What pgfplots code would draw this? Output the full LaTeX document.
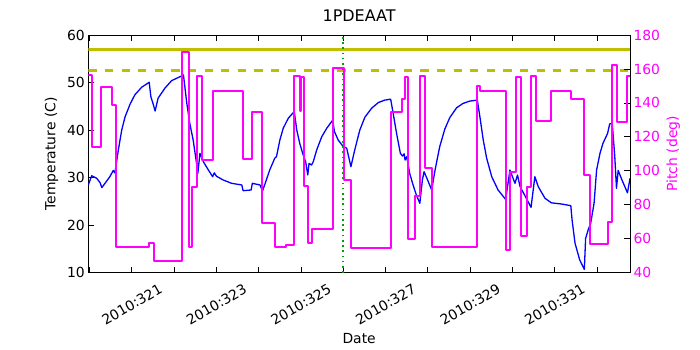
\documentclass[border=0pt]{standalone}
\usepackage{fontspec}
\setmainfont{DejaVu Sans}
\usepackage{pgfplots}
\pgfplotsset{compat=1.18}
\definecolor{mplblue}{RGB}{0,0,255}
\definecolor{mplmag}{RGB}{255,0,255}
\definecolor{mplolive}{RGB}{191,191,0}
\definecolor{mplgreen}{RGB}{0,160,0}
\begin{document}
\begin{tikzpicture}
\pgfplotsset{
  common/.style={
    at={(0pt,0pt)}, anchor=south west,
    scale only axis, width=541.7pt, height=237.7pt,
    xmin=319.97, xmax=332.78,
    /pgf/number format/assume math mode=true,
    tick label style={font=\fontsize{13.9}{16}\selectfont},
    label style={font=\fontsize{13.9}{16}\selectfont},
    major tick length=5.6pt, minor tick length=5.6pt,
    tick style={black, line width=0.8pt},
    axis line style={line width=0.9pt},
  }
}
\begin{axis}[common,
  ymin=10, ymax=60, ytick={10,20,...,60}, ytick pos=left,
  xtick={321,323,...,331},
  minor xtick={320,322,...,332},
  xticklabels={2010:321,2010:323,2010:325,2010:327,2010:329,2010:331},
  xticklabel style={yshift=-31.9pt, rotate=30, anchor=center},
  xlabel={Date},
  xlabel style={at={(axis description cs:0.5,-0.2979)}, anchor=base},
  ylabel={Temperature (C)},
  ylabel style={at={(axis description cs:-0.0606,0.5)}, anchor=base},
  title={1PDEAAT},
  title style={at={(axis description cs:0.5,1)}, anchor=base, yshift=7.3pt, font=\fontsize{16}{19}\selectfont},
]
\addplot[mplblue, line width=1.3pt, line join=round] coordinates {
(319.97,28.45) (320.05,30.4) (320.17,29.85) (320.25,28.9) (320.29,27.9) (320.48,30.2) (320.56,31.5) (320.60,31.0) (320.68,35.8) (320.76,40.0) (320.84,42.8) (320.96,45.5) (321.07,47.4) (321.23,49.0) (321.41,50.05) (321.45,47.0) (321.51,45.3) (321.55,44.0) (321.62,46.7) (321.78,48.8) (321.94,50.4) (322.18,51.4) (322.22,51.6) (322.30,45.6) (322.37,41.4) (322.45,37.9) (322.53,33.0) (322.56,30.9) (322.61,35.1) (322.69,33.35) (322.81,31.6) (322.91,30.2) (322.95,31.0) (323.00,30.3) (323.16,29.5) (323.36,28.8) (323.60,28.45) (323.63,27.25) (323.82,27.4) (323.85,28.8) (324.03,28.45) (324.09,27.2) (324.18,29.5) (324.26,31.6) (324.38,34.1) (324.42,34.4) (324.50,37.9) (324.58,40.4) (324.70,42.5) (324.84,43.9) (324.90,40.0) (324.97,37.2) (325.05,34.8) (325.11,33.35) (325.16,30.55) (325.19,33.0) (325.25,32.65) (325.29,33.35) (325.37,35.8) (325.49,38.6) (325.61,40.4) (325.75,42.1) (325.79,39.7) (325.88,37.9) (326.00,36.5) (326.08,36.2) (326.18,32.3) (326.27,35.8) (326.39,40.0) (326.51,42.7) (326.67,44.6) (326.83,45.8) (326.98,46.3) (327.12,46.5) (327.18,43.5) (327.26,39.3) (327.35,35.1) (327.40,34.55) (327.44,35.0) (327.46,33.7) (327.50,34.4) (327.57,30.9) (327.65,28.45) (327.73,26.3) (327.81,24.6) (327.87,29.5) (327.91,31.25) (328.01,29.15) (328.09,27.4) (328.17,31.6) (328.28,36.5) (328.40,40.2) (328.52,42.65) (328.68,44.7) (328.83,45.6) (328.99,46.1) (329.17,46.3) (329.23,42.8) (329.31,37.9) (329.39,34.1) (329.51,30.2) (329.66,27.4) (329.84,25.4) (329.94,31.6) (330.06,28.8) (330.12,30.55) (330.18,28.1) (330.29,26.3) (330.44,23.75) (330.53,30.2) (330.61,28.1) (330.77,25.65) (330.92,24.7) (331.16,24.45) (331.38,24.1) (331.41,21.1) (331.48,16.2) (331.59,12.7) (331.70,10.7) (331.73,17.2) (331.79,19.0) (331.85,20.4) (331.93,24.6) (331.99,31.6) (332.07,35.1) (332.14,37.2) (332.25,39.3) (332.30,41.3) (332.36,41.4) (332.42,34.4) (332.46,27.75) (332.50,31.5) (332.59,29.5) (332.72,26.8) (332.78,29.85)
};
\addplot[mplolive, line width=3pt] coordinates {(319.97,57) (332.78,57)};
\addplot[mplolive, line width=3pt, dash pattern=on 8.3pt off 8.3pt] coordinates {(319.97,52.45) (332.78,52.45)};
\addplot[mplgreen, line width=1.8pt, dash pattern=on 1.6pt off 3.6pt] coordinates {(326.0,10) (326.0,60)};
\end{axis}
\begin{axis}[common,
  axis x line=none,
  axis y line*=right,
  ymin=40, ymax=180, ytick={40,60,...,180},
  yticklabel style={text=mplmag},
  ylabel={Pitch (deg)},
  ylabel style={at={(axis description cs:1.0868,0.5)}, anchor=base, text=mplmag},
]
\addplot[mplmag, line width=2pt, line join=round] coordinates {
(319.97,156.4) (320.05,156.4) (320.05,113.9) (320.27,113.9) (320.27,149.5) (320.52,149.5) (320.52,138.6) (320.62,138.6) (320.62,55.1) (321.41,55.1) (321.41,57.7) (321.53,57.7) (321.53,47.1) (322.19,47.1) (322.19,170) (322.35,170) (322.35,55.1) (322.43,55.1) (322.43,90.5) (322.53,90.5) (322.53,155.8) (322.65,155.8) (322.65,106.4) (322.92,106.4) (322.92,147.2) (323.63,147.2) (323.63,107) (323.83,107) (323.83,134.6) (324.08,134.6) (324.08,69.1) (324.38,69.1) (324.38,55) (324.64,55) (324.64,56.3) (324.84,56.3) (324.84,155.8) (324.98,155.8) (324.98,135) (325.00,135) (325.00,155.1) (325.08,155.1) (325.08,91) (325.16,91) (325.16,57.3) (325.27,57.3) (325.27,65.6) (325.76,65.6) (325.76,160.4) (326.01,160.4) (326.01,94.6) (326.18,94.6) (326.18,54.4) (327.12,54.4) (327.12,134.8) (327.38,134.8) (327.38,142.5) (327.46,142.5) (327.46,155.4) (327.52,155.4) (327.52,59.7) (327.69,59.7) (327.69,85.2) (327.81,85.2) (327.81,155.8) (327.93,155.8) (327.93,101.5) (328.09,101.5) (328.09,55.3) (329.17,55.3) (329.17,150.1) (329.23,150.1) (329.23,146.8) (329.84,146.8) (329.84,53.4) (329.94,53.4) (329.94,99.1) (330.08,99.1) (330.08,155.4) (330.20,155.4) (330.20,61.8) (330.35,61.8) (330.35,90.7) (330.45,90.7) (330.45,155.8) (330.55,155.8) (330.55,129.5) (330.91,129.5) (330.91,147) (331.38,147) (331.38,142.5) (331.70,142.5) (331.70,97.5) (331.83,97.5) (331.83,56.9) (332.26,56.9) (332.26,69.7) (332.36,69.7) (332.36,162.3) (332.48,162.3) (332.48,128.9) (332.70,128.9) (332.70,155.8) (332.78,155.8)
};
\end{axis}
\pgfresetboundingbox
\path (-88.3pt,-77.3pt) rectangle (611.7pt,272.7pt);
\end{tikzpicture}
\end{document}
